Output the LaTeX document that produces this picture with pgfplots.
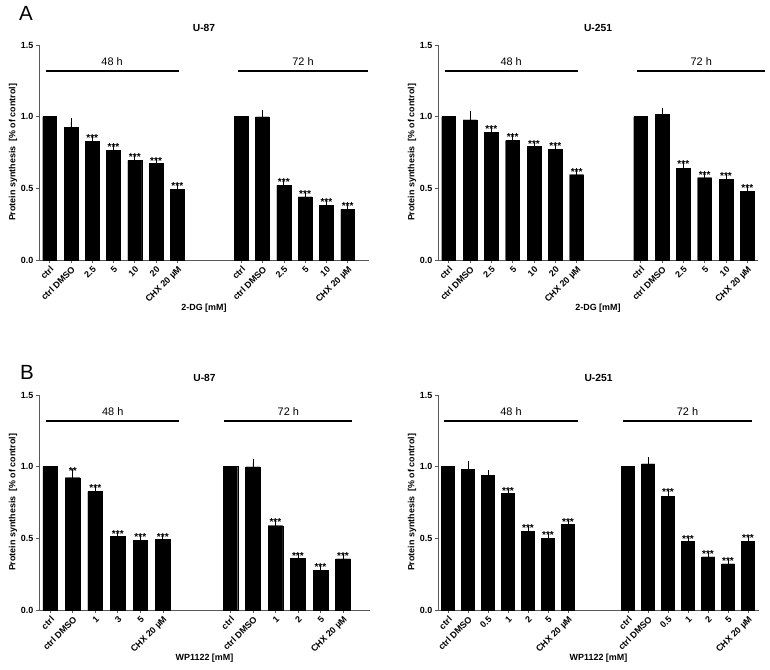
\documentclass[border=0pt]{standalone}
\usepackage{fontspec}
\setmainfont{Liberation Sans}
\usepackage{pgfplots}
\usepackage{pgfplotstable}
\pgfplotsset{compat=1.18}

\newcommand{\fTick}{\bfseries\fontsize{6.7}{7}\selectfont}
\newcommand{\fHead}{\fontsize{8.2}{9}\selectfont}
\newcommand{\fTitle}{\bfseries\fontsize{7.7}{9}\selectfont}
\newcommand{\fStar}{\bfseries\fontsize{7.6}{8}\selectfont}

% Panel A, U-87 (2-DG)
\pgfplotstableread{
x y err sig
0 1.000 0 {}
1 0.923 0.040 {}
2 0.830 0.014 ***
3 0.767 0.014 ***
4 0.695 0.014 ***
5 0.672 0.012 ***
6 0.493 0.012 ***
9 1.000 0 {}
10 0.998 0.025 {}
11 0.521 0.014 ***
12 0.440 0.011 ***
13 0.381 0.012 ***
14 0.353 0.012 ***
}\tabAA
% Panel A, U-251 (2-DG)
\pgfplotstableread{
x y err sig
0 1.000 0 {}
1 0.977 0.035 {}
2 0.891 0.016 ***
3 0.833 0.014 ***
4 0.791 0.010 ***
5 0.774 0.014 ***
6 0.595 0.010 ***
9 1.000 0 {}
10 1.016 0.021 {}
11 0.640 0.023 ***
12 0.574 0.010 ***
13 0.563 0.014 ***
14 0.481 0.010 ***
}\tabAB
% Panel B, U-87 (WP1122)
\pgfplotstableread{
x y err sig
0 1.000 0 {}
1 0.923 0.037 **
2 0.826 0.016 ***
3 0.514 0.009 ***
4 0.488 0.010 ***
5 0.491 0.011 ***
8 1.000 0 {}
9 0.998 0.028 {}
10 0.588 0.017 ***
11 0.360 0.010 ***
12 0.279 0.012 ***
13 0.356 0.009 ***
}\tabBA
% Panel B, U-251 (WP1122)
\pgfplotstableread{
x y err sig
0 1.000 0 {}
1 0.979 0.033 {}
2 0.940 0.011 {}
3 0.812 0.011 ***
4 0.549 0.014 ***
5 0.498 0.016 ***
6 0.598 0.009 ***
9 1.000 0 {}
10 1.019 0.021 {}
11 0.793 0.019 ***
12 0.479 0.009 ***
13 0.370 0.011 ***
14 0.321 0.009 ***
15 0.481 0.010 ***
}\tabBB

\pgfplotsset{
  panel/.style={
    scale only axis, anchor=south west, height=161.25pt,
    ymin=0, ymax=1.5, ytick={0,0.5,1,1.5},
    clip=false,
    axis x line*=bottom, axis y line*=left,
    axis line style={-, line width=0.6pt, black!65},
    tick style={line width=0.5pt, black!65},
    tick align=outside, major tick length=2.5pt,
    yticklabel style={font=\fTick, inner sep=1.5pt, /pgf/number format/.cd, fixed, fixed zerofill, precision=1, assume math mode=true},
    xticklabel style={font=\fTick, rotate=45, anchor=north east, inner sep=1pt},
    ylabel={Protein synthesis\ \ [\% of control]},
    every axis y label/.style={at={(axis description cs:0,0.5)}, xshift=-19.5pt, rotate=90, anchor=center, font=\fTick},
    every axis x label/.style={at={(axis description cs:0.5,0)}, yshift=-36pt, anchor=center, font=\fTick},
    every axis title/.style={at={(axis description cs:0.5,1)}, yshift=13pt, anchor=center, font=\fTitle},
  },
  barbase/.style={ybar, bar width=0.65, bar shift=0pt, fill=black, draw=black, line width=0.3pt},
  errplot/.style={barbase, forget plot, unbounded coords=discard,
    y filter/.expression={\thisrow{err}>0 ? y : nan},
    error bars/.cd, y dir=plus, y explicit,
    error bar style={line width=0.6pt, black},
    error mark options={black, line width=0.6pt, mark size=2.6pt}},
  starplot/.style={draw=none, mark=none, nodes near coords, point meta=explicit symbolic,
    nodes near coords style={font=\fStar, anchor=base, inner sep=0pt, yshift=-1.6pt}},
}

\begin{document}
\begin{tikzpicture}
\useasboundingbox (0,0) rectangle (577.5pt,502.5pt);

\node[font=\fontsize{15.4}{16}\selectfont] at (19.5pt,492.75pt) {A};
\node[font=\fontsize{15.4}{16}\selectfont] at (20.25pt,223.5pt) {B};

% ---- A, U-87
\begin{axis}[panel, at={(29.25pt,307.5pt)}, width=247.5pt,
  xmin=-0.5, xmax=15,
  xtick={0,1,2,3,4,5,6,9,10,11,12,13,14},
  xticklabels={ctrl,ctrl DMSO,2.5,5,10,20,CHX 20 µM,ctrl,ctrl DMSO,2.5,5,10,CHX 20 µM},
  title={U-87}, xlabel={2-DG [mM]}]
\addplot[errplot] table[x=x, y=y, y error=err] {\tabAA};
\addplot[barbase] table[x=x, y=y] {\tabAA};
\addplot[starplot] table[x=x, y expr=\thisrow{y}+\thisrow{err}, meta=sig] {\tabAA};
\draw[line width=1.5pt] (axis cs:-0.19,1.32) -- (axis cs:6.06,1.32) node[midway, above, inner sep=0pt, yshift=3.3pt, font=\fHead] {48 h};
\draw[line width=1.5pt] (axis cs:8.87,1.32) -- (axis cs:14.93,1.32) node[midway, above, inner sep=0pt, yshift=3.3pt, font=\fHead] {72 h};
\end{axis}

% ---- A, U-251
\begin{axis}[panel, at={(328.5pt,307.5pt)}, width=240pt,
  xmin=-0.5, xmax=14.5,
  xtick={0,1,2,3,4,5,6,9,10,11,12,13,14},
  xticklabels={ctrl,ctrl DMSO,2.5,5,10,20,CHX 20 µM,ctrl,ctrl DMSO,2.5,5,10,CHX 20 µM},
  title={U-251}, xlabel={2-DG [mM]}]
\addplot[errplot] table[x=x, y=y, y error=err] {\tabAB};
\addplot[barbase] table[x=x, y=y] {\tabAB};
\addplot[starplot] table[x=x, y expr=\thisrow{y}+\thisrow{err}, meta=sig] {\tabAB};
\draw[line width=1.5pt] (axis cs:-0.19,1.32) -- (axis cs:6.05,1.32) node[midway, above, inner sep=0pt, yshift=3.3pt, font=\fHead] {48 h};
\draw[line width=1.5pt] (axis cs:8.84,1.32) -- (axis cs:14.84,1.32) node[midway, above, inner sep=0pt, yshift=3.3pt, font=\fHead] {72 h};
\end{axis}

% ---- B, U-87
\begin{axis}[panel, at={(29.25pt,45pt)}, width=248.25pt,
  xmin=-0.5, xmax=14.2,
  xtick={0,1,2,3,4,5,8,9,10,11,12,13},
  xticklabels={ctrl,ctrl DMSO,1,3,5,CHX 20 µM,ctrl,ctrl DMSO,1,2,5,CHX 20 µM},
  title={U-87}, xlabel={WP1122 [mM]}]
\addplot[errplot] table[x=x, y=y, y error=err] {\tabBA};
\addplot[barbase] table[x=x, y=y] {\tabBA};
\addplot[starplot] table[x=x, y expr=\thisrow{y}+\thisrow{err}, meta=sig] {\tabBA};
\draw[line width=1.5pt] (axis cs:-0.18,1.32) -- (axis cs:5.73,1.32) node[midway, above, inner sep=0pt, yshift=3.3pt, font=\fHead] {48 h};
\draw[line width=1.5pt] (axis cs:7.73,1.32) -- (axis cs:13.42,1.32) node[midway, above, inner sep=0pt, yshift=3.3pt, font=\fHead] {72 h};
\end{axis}

% ---- B, U-251
\begin{axis}[panel, at={(328.5pt,45pt)}, width=240.75pt,
  xmin=-0.5, xmax=15.55,
  xtick={0,1,2,3,4,5,6,9,10,11,12,13,14,15},
  xticklabels={ctrl,ctrl DMSO,0.5,1,2,5,CHX 20 µM,ctrl,ctrl DMSO,0.5,1,2,5,CHX 20 µM},
  title={U-251}, xlabel={WP1122 [mM]}]
\addplot[errplot] table[x=x, y=y, y error=err] {\tabBB};
\addplot[barbase] table[x=x, y=y] {\tabBB};
\addplot[starplot] table[x=x, y expr=\thisrow{y}+\thisrow{err}, meta=sig] {\tabBB};
\draw[line width=1.5pt] (axis cs:-0.2,1.32) -- (axis cs:6.5,1.32) node[midway, above, inner sep=0pt, yshift=3.3pt, font=\fHead] {48 h};
\draw[line width=1.5pt] (axis cs:8.75,1.32) -- (axis cs:15.2,1.32) node[midway, above, inner sep=0pt, yshift=3.3pt, font=\fHead] {72 h};
\end{axis}
\end{tikzpicture}
\end{document}
